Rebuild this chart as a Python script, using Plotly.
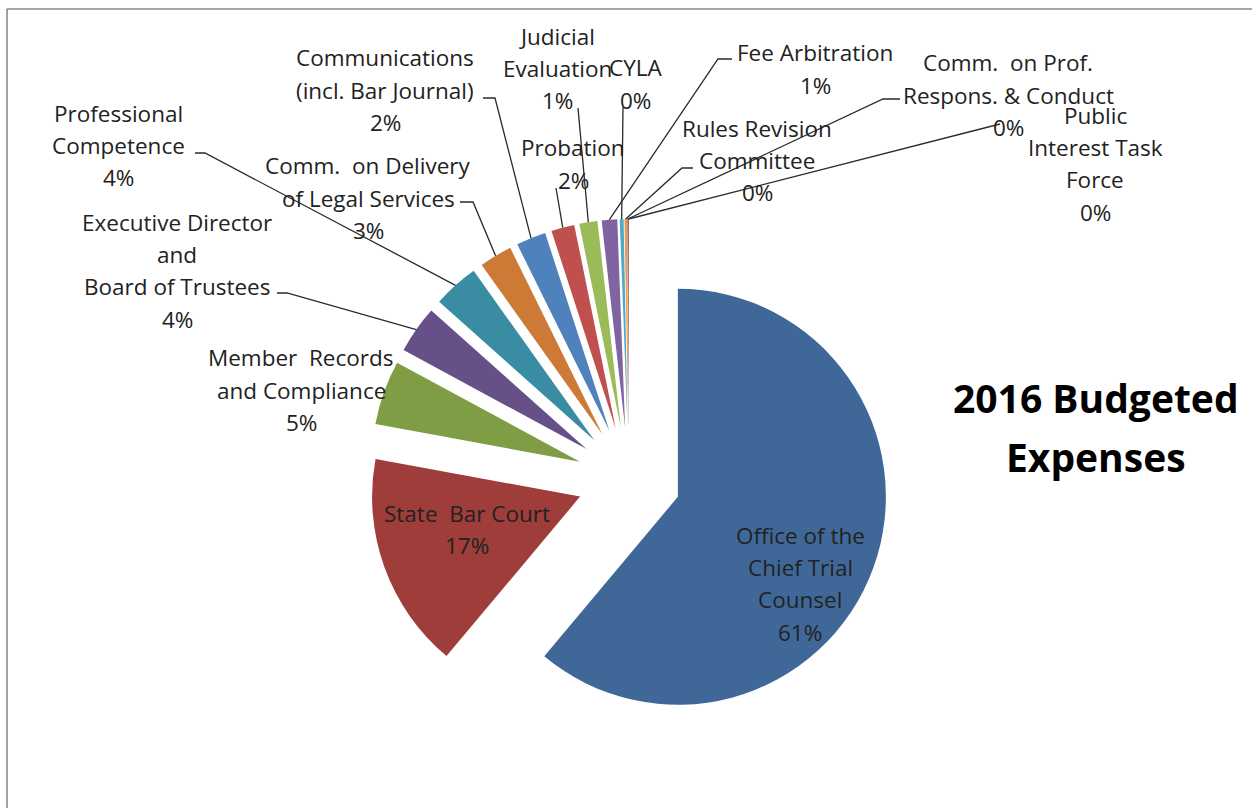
import plotly.graph_objects as go
import math

# ---------------- data (clockwise from 12 o'clock) ----------------
labels = [
    "Office of the\nChief Trial\nCounsel",
    "State  Bar Court",
    "Member  Records\nand Compliance",
    "Executive Director\nand\nBoard of Trustees",
    "Professional\nCompetence",
    "Comm.  on Delivery\nof Legal Services",
    "Communications\n(incl. Bar Journal)",
    "Probation",
    "Judicial\nEvaluation",
    "Fee Arbitration",
    "CYLA",
    "Rules Revision\nCommittee",
    "Comm.  on Prof.\nRespons. & Conduct",
    "Public\nInterest Task\nForce",
]
values = [61.1, 16.8, 5.0, 3.7, 3.55, 2.55, 2.3, 1.8, 1.4, 1.2, 0.3, 0.2, 0.05, 0.05]
colors = ["#3F6899", "#9E3D3A", "#7F9D45", "#674F88", "#3A8CA3", "#CC7A35",
          "#4F81BD", "#C0504D", "#9BBB59", "#8064A2", "#4BACC6", "#F79646",
          "#2C4D75", "#772C2A"]
title_lines = ["2016 Budgeted", "Expenses"]

# ---------------- layout constants (pixels) ----------------
W, H = 1252, 808
CX, CY, R, PULL = 629, 479, 208, 0.25
LINE = 32.4
FONT = "Open Sans"
FS = 22.5

label_pos = [(800, 535), (467, 513), (301, 358), (177, 222), (118, 113),
             (368, 166), (385, 58), (573, 148), (557, 36), (815, 53),
             (635, 68), (757, 128), (1008, 63), (1095, 115)]
leader_pts = [None, None, None,
              [(277, 293), (287, 293)],
              [(195, 153), (205, 153)],
              [(460, 202), (473, 202)],
              [(483, 98), (495, 98)],
              [(556, 188)],
              [(578, 108)],
              [(732, 59), (718, 59)],
              [(623, 107)],
              [(693, 168), (682, 168)],
              [(900, 99), (883, 99)],
              [(1000, 124)]]


def X(px):
    return px / W


def Y(py):
    return 1 - py / H


total = sum(values)
n = len(values)
RO = R * (1 + PULL)

fig = go.Figure(go.Pie(
    values=values,
    labels=[l.replace("\n", " ") for l in labels],
    sort=False, direction="clockwise", rotation=0,
    pull=[PULL] * n,
    marker=dict(colors=colors, line=dict(width=0)),
    textinfo="none", hoverinfo="label+percent",
    domain=dict(x=[(CX - RO) / W, (CX + RO) / W],
                y=[1 - (CY + RO) / H, 1 - (CY - RO) / H]),
    showlegend=False,
))

annotations = []
shapes = []
cum = 0.0
for i, (lab, v) in enumerate(zip(labels, values)):
    a0 = cum / total * 360
    cum += v
    a1 = cum / total * 360
    mid = math.radians((a0 + a1) / 2)
    pct = int(v / total * 100 + 0.5)
    lines = lab.split("\n") + [f"{pct}%"]
    lx, ly = label_pos[i]
    for k, t in enumerate(lines):
        annotations.append(dict(
            x=X(lx), y=Y(ly + k * LINE), xref="paper", yref="paper",
            text=t, showarrow=False, xanchor="center", yanchor="middle",
            font=dict(family=FONT, size=FS, color="#222222")))
    if leader_pts[i]:
        ex = CX + RO * math.sin(mid)
        ey = CY - RO * math.cos(mid)
        pts = leader_pts[i] + [(ex, ey)]
        path = "M " + " L ".join(f"{X(px):.5f},{Y(py):.5f}" for px, py in pts)
        shapes.append(dict(type="path", path=path, xref="paper", yref="paper",
                           line=dict(color="#2a2a2a", width=1.3)))

for k, t in enumerate(title_lines):
    annotations.append(dict(
        x=X(1096), y=Y(397 + k * 60), xref="paper", yref="paper",
        text=t, showarrow=False, xanchor="center", yanchor="middle",
        font=dict(family=FONT, size=39, color="#000000", weight=700)))

# chart border (top and left visible)
shapes.append(dict(type="line", xref="paper", yref="paper",
                   x0=X(7), y0=Y(9), x1=X(W + 5), y1=Y(9),
                   line=dict(color="#8A8A8A", width=1.6)))
shapes.append(dict(type="line", xref="paper", yref="paper",
                   x0=X(7), y0=Y(9), x1=X(7), y1=Y(H + 5),
                   line=dict(color="#8A8A8A", width=1.6)))

fig.update_layout(
    width=W, height=H,
    margin=dict(l=0, r=0, t=0, b=0),
    paper_bgcolor="white", plot_bgcolor="white",
    annotations=annotations, shapes=shapes,
)

fig.write_html("out.html")
